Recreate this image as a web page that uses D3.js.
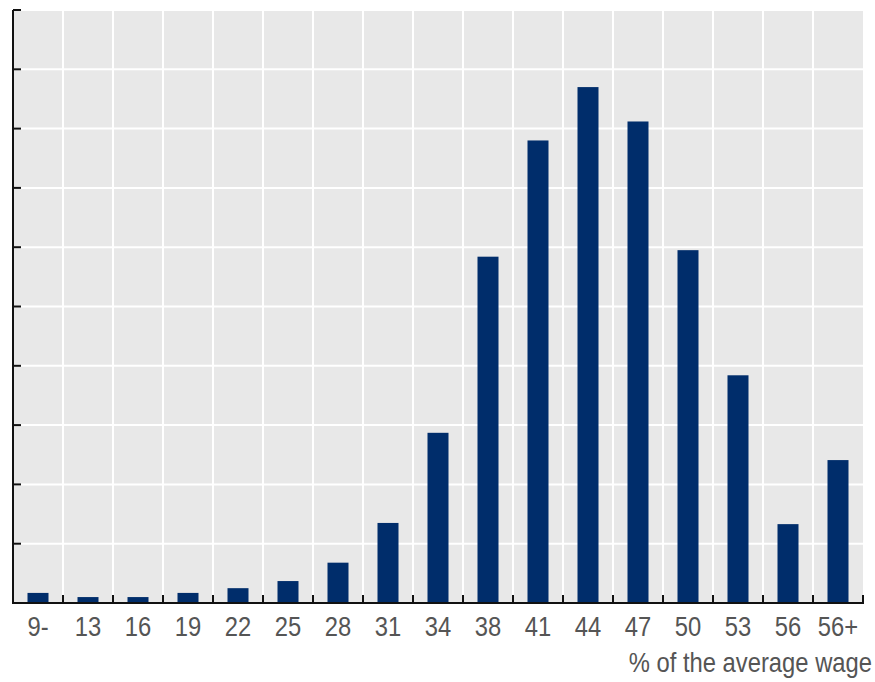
<!DOCTYPE html>
<html>
<head>
<meta charset="utf-8">
<script src="https://cdn.jsdelivr.net/npm/d3@7"></script>
<style>
  body { margin: 0; background: #fff; }
  .lbl { font-family: "Liberation Sans", Arial, sans-serif; fill: #555; }
</style>
</head>
<body>
<div id="chart"></div>
<script>
// categories (% of the average wage) and share of bars, in gridline units
var categories = ["9-", "13", "16", "19", "22", "25", "28", "31", "34", "38", "41", "44", "47", "50", "53", "56", "56+"];
var values = [0.17, 0.1, 0.1, 0.17, 0.25, 0.37, 0.68, 1.35, 2.87, 5.84, 7.8, 8.7, 8.12, 5.95, 3.84, 1.33, 2.41];
var yTicks = [0, 1, 2, 3, 4, 5, 6, 7, 8, 9, 10];
var xTitle = "% of the average wage";

var margin = {top: 10, right: 12, bottom: 79, left: 13},
    width = 875 - margin.left - margin.right,
    height = 682 - margin.top - margin.bottom;

var x = d3.scaleBand()
    .domain(categories)
    .range([0, width])
    .paddingInner(0.58)
    .paddingOuter(0.29);

var y = d3.scaleLinear()
    .domain([0, 10])
    .range([height, 0]);

var svg = d3.select("#chart").append("svg")
    .attr("width", 875)
    .attr("height", 682)
    .append("g")
    .attr("transform", "translate(" + margin.left + "," + margin.top + ")");

svg.append("rect")
    .attr("width", width)
    .attr("height", height)
    .attr("fill", "#e8e8e8");

// band edges for vertical gridlines and x ticks
var step = x.step();
var edges = d3.range(categories.length + 1).map(function(i) { return i * step; });

svg.selectAll(".vgrid")
    .data(edges.slice(1, -1))
    .enter().append("line")
    .attr("class", "vgrid")
    .attr("x1", function(d) { return d; })
    .attr("x2", function(d) { return d; })
    .attr("y1", 0)
    .attr("y2", height)
    .attr("stroke", "#fff")
    .attr("stroke-width", 2);

svg.selectAll(".hgrid")
    .data(yTicks.slice(1))
    .enter().append("line")
    .attr("class", "hgrid")
    .attr("x1", 0)
    .attr("x2", width)
    .attr("y1", function(d) { return y(d); })
    .attr("y2", function(d) { return y(d); })
    .attr("stroke", "#fff")
    .attr("stroke-width", 2);

svg.selectAll(".bar")
    .data(values)
    .enter().append("rect")
    .attr("class", "bar")
    .attr("x", function(d, i) { return x(categories[i]); })
    .attr("width", x.bandwidth())
    .attr("y", function(d) { return y(d); })
    .attr("height", function(d) { return height - y(d); })
    .attr("fill", "#002d6b");

// y axis: line with inward ticks, no labels
svg.append("line")
    .attr("x1", 0).attr("x2", 0)
    .attr("y1", 0).attr("y2", height)
    .attr("stroke", "#111").attr("stroke-width", 2);

svg.selectAll(".ytick")
    .data(yTicks.slice(1))
    .enter().append("line")
    .attr("class", "ytick")
    .attr("x1", 0).attr("x2", 8)
    .attr("y1", function(d) { return y(d); })
    .attr("y2", function(d) { return y(d); })
    .attr("stroke", "#111").attr("stroke-width", 2);

// x axis: line with upward ticks at band edges
svg.append("line")
    .attr("x1", -1).attr("x2", width + 1)
    .attr("y1", height).attr("y2", height)
    .attr("stroke", "#111").attr("stroke-width", 2);

svg.selectAll(".xtick")
    .data(edges.slice(1))
    .enter().append("line")
    .attr("class", "xtick")
    .attr("x1", function(d) { return d; })
    .attr("x2", function(d) { return d; })
    .attr("y1", height - 8).attr("y2", height)
    .attr("stroke", "#111").attr("stroke-width", 2);

svg.selectAll(".xlabel")
    .data(categories)
    .enter().append("text")
    .attr("class", "lbl xlabel")
    .attr("transform", function(d) {
      return "translate(" + (x(d) + x.bandwidth() / 2) + "," + (height + 33) + ") scale(0.85,1)";
    })
    .style("text-anchor", "middle")
    .style("font-size", "28px")
    .text(function(d) { return d; });

svg.append("text")
    .attr("class", "lbl")
    .attr("transform", "translate(" + (width + 9) + "," + (height + 69) + ") scale(0.85,1)")
    .style("text-anchor", "end")
    .style("font-size", "28px")
    .text(xTitle);
</script>
</body>
</html>
